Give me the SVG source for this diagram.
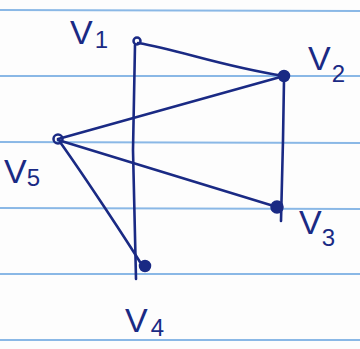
<svg xmlns="http://www.w3.org/2000/svg" width="360" height="349" viewBox="0 0 360 349">
<style>
.rule{stroke:#8ab8e6;stroke-width:2}
.edge{stroke:#1a2a84;stroke-width:2.6;fill:none;stroke-linecap:round}
.node{fill:#1a2a84;stroke:#1a2a84;stroke-width:2.5}
.hollow{fill:none}
.lbl{font-family:"Liberation Sans",Arial,sans-serif;font-size:34px;fill:#1a2a84}
.sub{font-size:24px}
</style>
<rect width="360" height="349" fill="#fdfdfd"/>
<g id="paper">
<line class="rule" x1="0" y1="10" x2="360" y2="11"/>
<line class="rule" x1="0" y1="76" x2="360" y2="76"/>
<line class="rule" x1="0" y1="142" x2="360" y2="143"/>
<line class="rule" x1="0" y1="208" x2="360" y2="209"/>
<line class="rule" x1="0" y1="274" x2="360" y2="274"/>
<line class="rule" x1="0" y1="340" x2="360" y2="340"/>
</g>
<g id="connectors">
<path class="edge" d="M138,43 C180,50 220,66 284,76"/>
<path class="edge" d="M135,45 L133,150 L136,279"/>
<path class="edge" d="M284,76 L58,139"/>
<path class="edge" d="M284,80 L283,140 L281,221"/>
<path class="edge" d="M58,140 L277,207"/>
<path class="edge" d="M60,142 C80,170 120,230 140,262"/>
</g>
<g id="v1"><circle class="node hollow" cx="137" cy="41" r="3.5"/><text class="lbl" x="70" y="44">V<tspan class="sub" dx="2" dy="4">1</tspan></text></g>
<g id="v2"><circle class="node" cx="284" cy="76" r="5"/><text class="lbl" x="308" y="70">V<tspan class="sub" dx="1" dy="12">2</tspan></text></g>
<g id="v3"><circle class="node" cx="277" cy="207" r="5.5"/><text class="lbl" x="299" y="234">V<tspan class="sub" dx="0" dy="12">3</tspan></text></g>
<g id="v4"><circle class="node" cx="145" cy="266" r="5"/><text class="lbl" x="125" y="332">V<tspan class="sub" dx="3" dy="4">4</tspan></text></g>
<g id="v5"><circle class="node hollow" cx="58" cy="139" r="4.5"/><text class="lbl" x="4" y="183">V<tspan class="sub" dx="0" dy="3">5</tspan></text></g>
</svg>
